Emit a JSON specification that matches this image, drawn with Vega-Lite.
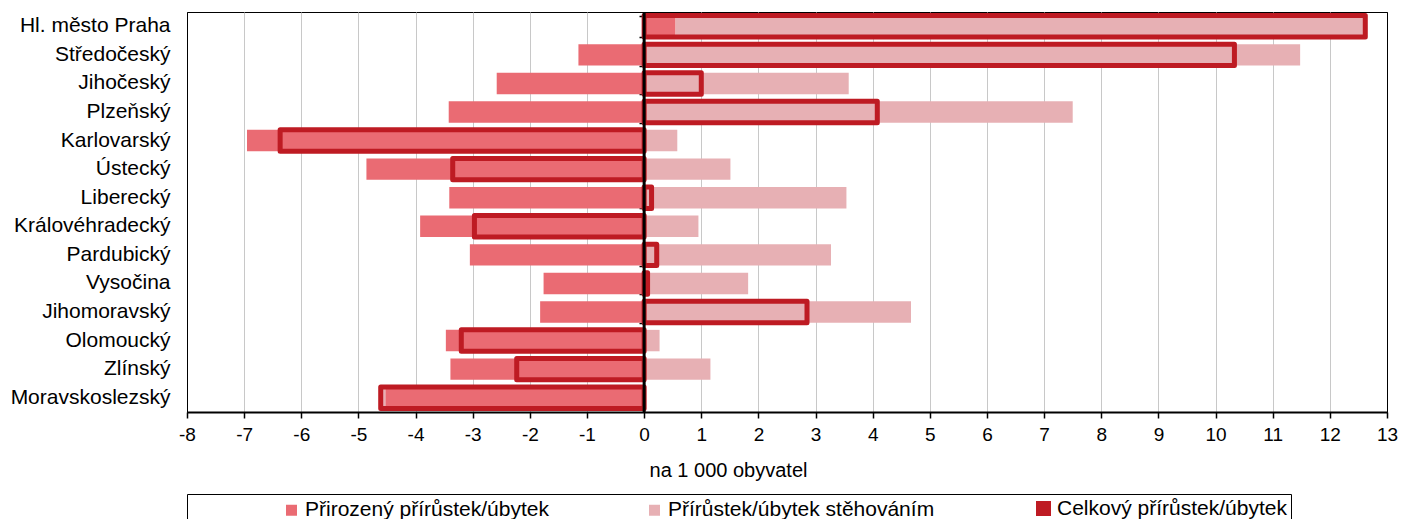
{
  "$schema": "https://vega.github.io/schema/vega-lite/v6.json",
  "width": 1200,
  "height": 400,
  "autosize": {"type": "none"},
  "padding": {"left": 187, "top": 12, "right": 15, "bottom": 107},
  "background": "white",
  "config": {
    "font": "Liberation Sans, Arial, sans-serif",
    "view": {"stroke": "#000000", "strokeWidth": 1},
    "axis": {"labelColor": "#000000", "titleColor": "#000000", "labelFont": "Liberation Sans, Arial, sans-serif", "titleFont": "Liberation Sans, Arial, sans-serif"},
    "legend": {"labelFont": "Liberation Sans, Arial, sans-serif", "titleFont": "Liberation Sans, Arial, sans-serif", "labelColor": "#000000"}
  },
  "data": {
    "values": [
      {"region": "Hl. město Praha", "series": "Přirozený přírůstek/úbytek", "value": 0.55},
      {"region": "Hl. město Praha", "series": "Přírůstek/úbytek stěhováním", "value": 12.07},
      {"region": "Hl. město Praha", "series": "Celkový přírůstek/úbytek", "value": 12.62},
      {"region": "Středočeský", "series": "Přirozený přírůstek/úbytek", "value": -1.15},
      {"region": "Středočeský", "series": "Přírůstek/úbytek stěhováním", "value": 11.48},
      {"region": "Středočeský", "series": "Celkový přírůstek/úbytek", "value": 10.33},
      {"region": "Jihočeský", "series": "Přirozený přírůstek/úbytek", "value": -2.58},
      {"region": "Jihočeský", "series": "Přírůstek/úbytek stěhováním", "value": 3.58},
      {"region": "Jihočeský", "series": "Celkový přírůstek/úbytek", "value": 1.0},
      {"region": "Plzeňský", "series": "Přirozený přírůstek/úbytek", "value": -3.42},
      {"region": "Plzeňský", "series": "Přírůstek/úbytek stěhováním", "value": 7.5},
      {"region": "Plzeňský", "series": "Celkový přírůstek/úbytek", "value": 4.08},
      {"region": "Karlovarský", "series": "Přirozený přírůstek/úbytek", "value": -6.95},
      {"region": "Karlovarský", "series": "Přírůstek/úbytek stěhováním", "value": 0.58},
      {"region": "Karlovarský", "series": "Celkový přírůstek/úbytek", "value": -6.37},
      {"region": "Ústecký", "series": "Přirozený přírůstek/úbytek", "value": -4.86},
      {"region": "Ústecký", "series": "Přírůstek/úbytek stěhováním", "value": 1.51},
      {"region": "Ústecký", "series": "Celkový přírůstek/úbytek", "value": -3.35},
      {"region": "Liberecký", "series": "Přirozený přírůstek/úbytek", "value": -3.41},
      {"region": "Liberecký", "series": "Přírůstek/úbytek stěhováním", "value": 3.54},
      {"region": "Liberecký", "series": "Celkový přírůstek/úbytek", "value": 0.13},
      {"region": "Královéhradecký", "series": "Přirozený přírůstek/úbytek", "value": -3.92},
      {"region": "Královéhradecký", "series": "Přírůstek/úbytek stěhováním", "value": 0.95},
      {"region": "Královéhradecký", "series": "Celkový přírůstek/úbytek", "value": -2.97},
      {"region": "Pardubický", "series": "Přirozený přírůstek/úbytek", "value": -3.05},
      {"region": "Pardubický", "series": "Přírůstek/úbytek stěhováním", "value": 3.27},
      {"region": "Pardubický", "series": "Celkový přírůstek/úbytek", "value": 0.22},
      {"region": "Vysočina", "series": "Přirozený přírůstek/úbytek", "value": -1.76},
      {"region": "Vysočina", "series": "Přírůstek/úbytek stěhováním", "value": 1.82},
      {"region": "Vysočina", "series": "Celkový přírůstek/úbytek", "value": 0.06},
      {"region": "Jihomoravský", "series": "Přirozený přírůstek/úbytek", "value": -1.82},
      {"region": "Jihomoravský", "series": "Přírůstek/úbytek stěhováním", "value": 4.67},
      {"region": "Jihomoravský", "series": "Celkový přírůstek/úbytek", "value": 2.85},
      {"region": "Olomoucký", "series": "Přirozený přírůstek/úbytek", "value": -3.47},
      {"region": "Olomoucký", "series": "Přírůstek/úbytek stěhováním", "value": 0.27},
      {"region": "Olomoucký", "series": "Celkový přírůstek/úbytek", "value": -3.2},
      {"region": "Zlínský", "series": "Přirozený přírůstek/úbytek", "value": -3.39},
      {"region": "Zlínský", "series": "Přírůstek/úbytek stěhováním", "value": 1.16},
      {"region": "Zlínský", "series": "Celkový přírůstek/úbytek", "value": -2.23},
      {"region": "Moravskoslezský", "series": "Přirozený přírůstek/úbytek", "value": -4.53},
      {"region": "Moravskoslezský", "series": "Přírůstek/úbytek stěhováním", "value": -0.08},
      {"region": "Moravskoslezský", "series": "Celkový přírůstek/úbytek", "value": -4.61}
    ]
  },
  "resolve": {"axis": {"y": "independent"}},
  "layer": [
    {
      "transform": [{"filter": "datum.series !== 'Celkový přírůstek/úbytek'"}],
      "mark": {"type": "bar"},
      "encoding": {
        "y": {
          "field": "region", "type": "nominal",
          "sort": ["Hl. město Praha", "Středočeský", "Jihočeský", "Plzeňský", "Karlovarský", "Ústecký", "Liberecký", "Královéhradecký", "Pardubický", "Vysočina", "Jihomoravský", "Olomoucký", "Zlínský", "Moravskoslezský"],
          "scale": {"paddingInner": 0.25, "paddingOuter": 0.125},
          "axis": {"title": null, "ticks": false, "domain": false, "labelFontSize": 21, "labelPadding": 17, "labelLimit": 400}
        },
        "x": {
          "field": "value", "type": "quantitative",
          "scale": {"domain": [-8, 13], "nice": false, "zero": false},
          "axis": {
            "values": [-8, -7, -6, -5, -4, -3, -2, -1, 0, 1, 2, 3, 4, 5, 6, 7, 8, 9, 10, 11, 12, 13],
            "labelExpr": "'' + datum.value",
            "grid": true,
            "gridColor": {"condition": {"test": "datum.value == -8 || datum.value == 13", "value": "#000000"}, "value": "#C8C8C8"},
            "gridWidth": 1,
            "domainColor": "#000000", "domainWidth": 2,
            "tickColor": "#000000", "tickSize": 6, "tickWidth": 1.5,
            "labelFontSize": 19, "labelPadding": 7, "labelFlush": false,
            "title": "na 1 000 obyvatel", "titleFontSize": 20, "titleFontWeight": "normal",
            "titleX": 541, "titleY": 58, "titleBaseline": "middle", "titleAlign": "center"
          }
        },
        "color": {
          "field": "series", "type": "nominal",
          "scale": {"domain": ["Přirozený přírůstek/úbytek", "Přírůstek/úbytek stěhováním", "Celkový přírůstek/úbytek"], "range": ["#EA6B73", "#E7B0B4", "#BE1B23"]},
          "legend": {
            "orient": "none", "legendX": 0, "legendY": 482, "direction": "horizontal",
            "title": " ", "titleOrient": "left", "titleFontSize": 20, "titlePadding": 90,
            "padding": 4, "strokeColor": "#000000",
            "columnPadding": 95, "symbolType": "square", "symbolSize": 121,
            "labelFontSize": 21, "labelOffset": 3, "labelLimit": 2000,
            "encode": {
              "symbols": {
                "update": {
                  "fill": {"signal": "(datum.index === 2 || datum.label === 'Celkový přírůstek/úbytek' || datum.value === 'Celkový přírůstek/úbytek') ? '#ffffff' : scale('color', datum.value)"},
                  "stroke": {"signal": "scale('color', datum.value)"},
                  "strokeWidth": {"signal": "(datum.index === 2 || datum.label === 'Celkový přírůstek/úbytek' || datum.value === 'Celkový přírůstek/úbytek') ? 4 : 0"},
                  "opacity": {"value": 1},
                  "fillOpacity": {"value": 1}
                }
              }
            }
          }
        }
      }
    },
    {
      "transform": [{"filter": "datum.series === 'Celkový přírůstek/úbytek'"}],
      "mark": {"type": "bar", "filled": false, "stroke": "#BE1B23", "strokeWidth": 5, "strokeJoin": "round"},
      "encoding": {
        "y": {
          "field": "region", "type": "nominal",
          "sort": ["Hl. město Praha", "Středočeský", "Jihočeský", "Plzeňský", "Karlovarský", "Ústecký", "Liberecký", "Královéhradecký", "Pardubický", "Vysočina", "Jihomoravský", "Olomoucký", "Zlínský", "Moravskoslezský"],
          "axis": {"orient": "left", "offset": -457, "title": null, "labels": false, "domain": false, "grid": false, "ticks": true, "tickSize": 5, "tickWidth": 1.5, "tickColor": "#000000", "tickBand": "extent"}
        },
        "x": {"field": "value", "type": "quantitative"},
        "strokeWidth": {"value": 5}
      }
    },
    {
      "data": {"values": [{}]},
      "mark": {"type": "rule", "color": "#000000", "strokeWidth": 3},
      "encoding": {"x": {"datum": 0}}
    }
  ]
}
